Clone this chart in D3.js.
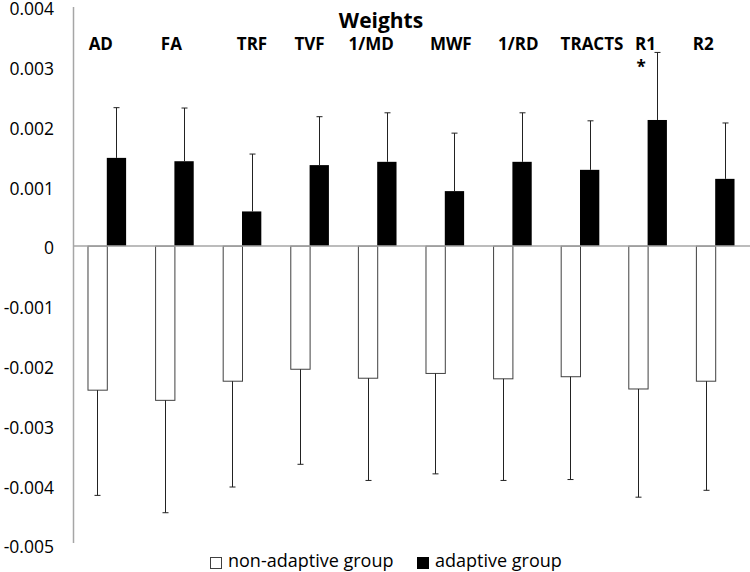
<!DOCTYPE html>
<html>
<head>
<meta charset="utf-8">
<script src="https://cdn.jsdelivr.net/npm/d3@7"></script>
<style>
  html, body { margin: 0; padding: 0; background: #fff; }
  svg { display: block; font-family: "Open Sans", sans-serif; }
</style>
</head>
<body>
<svg id="chart" width="750" height="572"></svg>
<script>
// ---- data ----
const categories = ["AD", "FA", "TRF", "TVF", "1/MD", "MWF", "1/RD", "TRACTS", "R1", "R2"];
const seriesNames = ["non-adaptive group", "adaptive group"];
const nonAdaptive = [-0.00241, -0.00258, -0.00226, -0.00206, -0.00221, -0.00213, -0.00222, -0.002185, -0.00239, -0.00226];
const nonAdaptiveErr = [0.00176, 0.00188, 0.00177, 0.00159, 0.00171, 0.00168, 0.00170, 0.00172, 0.00181, 0.001825];
const adaptive = [0.001476, 0.00142, 0.00058, 0.001355, 0.00141, 0.00092, 0.00141, 0.001276, 0.00211, 0.001125];
const adaptiveErr = [0.00084, 0.00089, 0.00096, 0.00081, 0.00082, 0.00097, 0.00082, 0.00082, 0.00113, 0.000935];
const yTicks = [0.004, 0.003, 0.002, 0.001, 0, -0.001, -0.002, -0.003, -0.004, -0.005];
const tickLabels = ["0.004", "0.003", "0.002", "0.001", "0", "-0.001", "-0.002", "-0.003", "-0.004", "-0.005"];
const title = "Weights";
const significant = ["R1"];

// ---- layout ----
const labelDx = [-6, -3, 10, 0, -6, 6, 6, 12, -2, -12];
const svg = d3.select("#chart");
const plotLeft = 73, plotRight = 749, plotTop = 7, plotBottom = 545;

const y = d3.scaleLinear().domain([-0.005, 0.004]).range([plotBottom, plotTop]);
const x = d3.scaleBand().domain(categories).range([plotLeft, plotRight])
  .paddingInner(1.5 / 3.5).paddingOuter(0.75 / 3.5);
const xs = d3.scaleBand().domain(seriesNames).range([0, x.bandwidth()]);
const step = x.step();
const catCenter = (c) => plotLeft + categories.indexOf(c) * step + step / 2;

// y axis line
svg.append("line")
  .attr("x1", plotLeft + 0.5).attr("x2", plotLeft + 0.5)
  .attr("y1", plotTop).attr("y2", plotBottom - 2)
  .attr("stroke", "#a6a6a6").attr("stroke-width", 1.5);

// tick labels
const yAxis = d3.axisLeft(y).tickValues(yTicks).tickSize(0).tickPadding(19)
  .tickFormat((d, i) => tickLabels[i]);
const gy = svg.append("g").attr("transform", `translate(${plotLeft},0)`).call(yAxis);
gy.select(".domain").remove();
gy.selectAll("text").attr("font-family", "Open Sans, sans-serif")
  .attr("font-size", 17.5).attr("fill", "#000").attr("dy", "0.45em");

// bars
const g = svg.append("g");
const nonData = categories.map((c, i) => ({ c, v: nonAdaptive[i], e: nonAdaptiveErr[i] }));
const adData = categories.map((c, i) => ({ c, v: adaptive[i], e: adaptiveErr[i] }));

g.selectAll("rect.non").data(nonData).join("rect")
  .attr("class", "non")
  .attr("x", d => x(d.c) + xs(seriesNames[0]) + 0.5)
  .attr("y", y(0))
  .attr("width", xs.bandwidth())
  .attr("height", d => y(d.v) - y(0))
  .attr("fill", "#fff").attr("stroke", "#404040").attr("stroke-width", 1);

g.selectAll("rect.ad").data(adData).join("rect")
  .attr("class", "ad")
  .attr("x", d => x(d.c) + xs(seriesNames[1]))
  .attr("y", d => y(d.v))
  .attr("width", xs.bandwidth())
  .attr("height", d => y(0) - y(d.v))
  .attr("fill", "#000");

// zero line
svg.append("line")
  .attr("x1", plotLeft).attr("x2", 750)
  .attr("y1", y(0)).attr("y2", y(0))
  .attr("stroke", "#a6a6a6").attr("stroke-width", 1.5);

// error bars
function errBars(data, series, dir) {
  const cx = d => Math.round(x(d.c) + xs(series) + xs.bandwidth() / 2) + 0.5;
  const eg = svg.append("g").attr("stroke", "#222").attr("stroke-width", 1);
  eg.selectAll("line.v").data(data).join("line")
    .attr("class", "v")
    .attr("x1", cx).attr("x2", cx)
    .attr("y1", d => y(d.v)).attr("y2", d => y(d.v + dir * d.e));
  eg.selectAll("line.cap").data(data).join("line")
    .attr("class", "cap")
    .attr("x1", d => cx(d) - 3).attr("x2", d => cx(d) + 3)
    .attr("y1", d => y(d.v + dir * d.e)).attr("y2", d => y(d.v + dir * d.e));
}
errBars(nonData, seriesNames[0], -1);
errBars(adData, seriesNames[1], 1);

// title
svg.append("text").attr("x", 381).attr("y", 28)
  .attr("text-anchor", "middle").attr("font-weight", "bold")
  .attr("font-size", 21).text(title);

// category labels
svg.append("g").selectAll("text").data(categories).join("text")
  .attr("x", (c, i) => catCenter(c) + labelDx[i])
  .attr("y", 50)
  .attr("text-anchor", "middle").attr("font-weight", "bold")
  .attr("font-size", 17).text(c => c);

// significance marker
svg.append("g").selectAll("text").data(significant).join("text")
  .attr("x", c => catCenter(c) - 6.5)
  .attr("y", 73)
  .attr("text-anchor", "middle").attr("font-weight", "bold")
  .attr("font-size", 17).text("*");

// legend
const legend = svg.append("g");
const legendX = [210, 417];
seriesNames.forEach((s, i) => {
  legend.append("rect").attr("x", legendX[i] + 0.5).attr("y", 557.5)
    .attr("width", 11).attr("height", 11)
    .attr("fill", i === 0 ? "#fff" : "#000")
    .attr("stroke", i === 0 ? "#404040" : "#000");
  legend.append("text").attr("x", legendX[i] + 18).attr("y", 567)
    .attr("font-size", 18).text(s);
});
</script>
</body>
</html>
